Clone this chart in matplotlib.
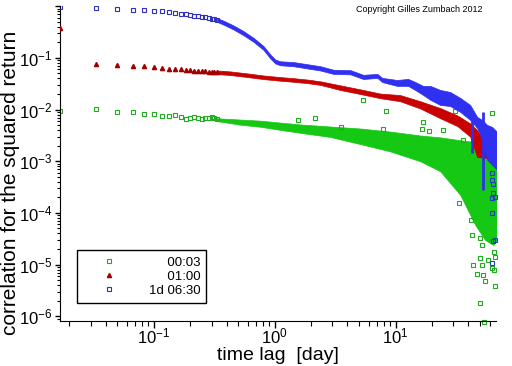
import matplotlib
matplotlib.use("Agg")
import matplotlib.pyplot as plt
from matplotlib.ticker import LogLocator, NullFormatter, FixedLocator, FixedFormatter

plt.rcParams["font.family"] = ["Liberation Sans", "DejaVu Sans"]
plt.rcParams["mathtext.fontset"] = "custom"
plt.rcParams["mathtext.rm"] = "Liberation Sans"
plt.rcParams["mathtext.it"] = "Liberation Sans:italic"
plt.rcParams["mathtext.bf"] = "Liberation Sans:bold"

# first lags (1/60 day steps), where single points are still visible
lags_early = [0.0167, 0.0333, 0.05, 0.0667, 0.0833, 0.1, 0.1167, 0.1333, 0.15, 0.1667,
              0.1833, 0.2, 0.2167, 0.2333, 0.25, 0.2667, 0.2833, 0.3, 0.3167, 0.3333]
green_early = [0.0094, 0.0101, 0.0089, 0.0089, 0.0081, 0.0081, 0.0076, 0.0074, 0.0078, 0.0071,
               0.0065, 0.0069, 0.0071, 0.0068, 0.0065, 0.0068, 0.0069, 0.0071, 0.0068, 0.0066]
red_early = [0.38, 0.0764, 0.0721, 0.069, 0.069, 0.066, 0.063, 0.060, 0.060, 0.060,
             0.0593, 0.0577, 0.0567, 0.056, 0.0552, 0.0552, 0.0542, 0.0535, 0.0535, 0.0527]
blue_early = [0.97, 0.91, 0.875, 0.86, 0.84, 0.82, 0.80, 0.765, 0.74, 0.72,
              0.71, 0.68, 0.655, 0.64, 0.62, 0.607, 0.589, 0.578, 0.56, 0.543]

# dense part: upper / lower envelope of the point cloud
green_lag = [0.33, 0.52, 0.76, 1.11, 1.63, 2.88, 5.11, 9.04, 16.0, 23.4, 34.3, 45.6, 55.1, 64.3, 68.5]
green_hi = [0.0068, 0.00640, 0.00610, 0.00560, 0.00515, 0.00470, 0.00430, 0.00375, 0.00315,
            0.00290, 0.00255, 0.00236, 0.00207, 0.00132, 0.0011]
green_lo = [0.0060, 0.00510, 0.00465, 0.00405, 0.00355, 0.00295, 0.00215, 0.00155, 0.00100,
            0.00064, 0.000222, 5.85e-5, 2.99e-5, 2.39e-5, 3e-5]

red_lag = [0.333, 0.43, 0.594, 0.807, 1.11, 1.43, 1.90, 2.39, 3.49, 5.11, 7.47, 10.9, 16.0,
           23.4, 32.4, 41.4, 47.3, 55.1, 64.3, 68.0]
red_hi = [0.0571, 0.0547, 0.0501, 0.0457, 0.0425, 0.0405, 0.0379, 0.0352, 0.0294, 0.0246,
          0.0204, 0.0191, 0.0145, 0.0107, 0.0077, 0.0054, 0.0040, 0.0023, 0.0021, 0.0020]
red_lo = [0.0486, 0.0466, 0.0426, 0.0389, 0.0362, 0.0345, 0.0323, 0.0300, 0.0239, 0.0200,
          0.0166, 0.0145, 0.0105, 0.0068, 0.0048, 0.0030, 0.0012, 0.00117, 0.00107, 0.00110]

blue_lag = [0.333, 0.377, 0.456, 0.551, 0.667, 0.807, 0.921, 1.01, 1.11, 1.43, 1.90, 2.39, 3.06,
            4.23, 5.41, 7.06, 7.76, 10.3, 12.7, 14.5, 16.9, 19.4, 23.4, 28.3, 34.3, 41.4, 47.3,
            52.0, 57.2, 62.9, 69.2]
blue_hi = [0.59, 0.525, 0.425, 0.33, 0.245, 0.17, 0.116, 0.093, 0.086, 0.083, 0.075, 0.069, 0.059,
           0.058, 0.047, 0.049, 0.041, 0.0374, 0.0392, 0.0343, 0.0287, 0.0287, 0.0240, 0.0219,
           0.0168, 0.0123, 0.0072, 0.0063, 0.00504, 0.00461, 0.00369]
blue_lo = [0.50, 0.44, 0.355, 0.275, 0.205, 0.143, 0.097, 0.078, 0.072, 0.069, 0.062, 0.057, 0.049,
           0.048, 0.039, 0.041, 0.034, 0.0287, 0.0287, 0.0240, 0.0192, 0.0154, 0.0123, 0.0117,
           0.0090, 0.0063, 0.0044, 0.00258, 0.00106, 0.00085, 0.00068]

# isolated points away from the clouds
green_out_lag = [5.41, 8.37, 2.17, 1.57, 16.9, 16.4, 19.0, 24.8, 36.3, 63.1, 31.1, 7.91, 3.56,
                 33.2, 42.3, 43.1, 50.1, 51.9, 50.1, 51.9, 43.9, 47.3, 53.1, 55.1, 62.7, 65.3,
                 66.8, 50.1, 54.1, 58.3, 65.3, 66.8]
green_out = [0.0153, 0.0094, 0.0068, 0.0063, 0.0057, 0.0042, 0.0039, 0.0040, 0.0026, 0.0087,
             0.0094, 0.0042, 0.0047, 1.58e-4, 7.3e-5, 3.74e-5, 3.23e-5, 2.4e-5, 1.32e-5, 9.8e-6,
             9.8e-6, 6.6e-6, 6.3e-6, 4.9e-6, 8.5e-6, 7.9e-6, 3.85e-6, 1.78e-6, 7.9e-7, 1.23e-5,
             1.78e-5, 1.42e-5]
blue_out_lag = [62.7, 63.5, 64.3, 63.1, 62.7, 62.7, 63.5, 62.7, 66.8, 66.8]
blue_out = [5.8e-4, 3.7e-4, 2.4e-4, 1.95e-4, 4.3e-4, 1.0e-4, 2.8e-5, 1.06e-5, 2.0e-4, 3e-5]
blue_spike_lag = [43.0, 52.5]
blue_spike_top = [0.009, 0.009]
blue_spike_bottom = [0.00144, 0.00028]

labels = ["\u2007\u2007 00:03", "\u2007\u2007 01:00", "1d 06:30"]
green = "#14c814"
red = "#c80000"
blue = "#3030f0"

fig = plt.figure(figsize=(5.12, 3.66), dpi=100)
ax = fig.add_axes([0.117, 0.123, 0.852, 0.860])

# 00:03
ax.fill_between(green_lag, green_lo, green_hi, color=green, lw=0.5, zorder=2)
ax.plot(green_out_lag, green_out, ls="none", marker="s", ms=3, mfc="none", mec="#22aa22",
        mew=0.8, zorder=2, clip_on=False)
h1, = ax.plot(lags_early, green_early, ls="none", marker="s", ms=3, mfc="none", mec="#22aa22",
              mew=0.8, zorder=2)

# 01:00
ax.fill_between(red_lag, red_lo, red_hi, color=red, lw=0.5, zorder=3)
h2, = ax.plot(lags_early, red_early, ls="none", marker="^", ms=3, color="#a00000", zorder=3)

# 1d 06:30
ax.fill_between(blue_lag, blue_lo, blue_hi, color=blue, lw=0.5, zorder=4)
ax.vlines(blue_spike_lag, blue_spike_bottom, blue_spike_top, color=blue, lw=2, zorder=4)
ax.plot(blue_out_lag, blue_out, ls="none", marker="s", ms=3, mfc="none", mec="#2040c0",
        mew=0.8, zorder=4, clip_on=False)
h3, = ax.plot(lags_early, blue_early, ls="none", marker="s", ms=3, mfc="none", mec="#3030c0",
              mew=0.8, zorder=4)

ax.set_xscale("log")
ax.set_yscale("log")
ax.set_xlim(0.0167, 67.9)
ax.set_ylim(8.1e-7, 1.0)

ax.spines["top"].set_visible(False)
ax.spines["right"].set_visible(False)
ax.tick_params(axis="x", which="major", direction="out", length=5, width=1, labelsize=12, pad=-1)
ax.tick_params(axis="x", which="minor", direction="out", length=3.6, width=0.8)
ax.tick_params(axis="y", which="major", direction="out", length=3.5, width=1, labelsize=12, pad=2)
ax.tick_params(axis="y", which="minor", direction="out", length=2.5, width=0.8)

ax.xaxis.set_major_locator(FixedLocator([0.1, 1, 10]))
ax.xaxis.set_major_formatter(FixedFormatter(["$10^{-1}$", "$10^{0}$", "$10^{1}$"]))
ax.xaxis.set_minor_locator(LogLocator(base=10, subs=range(2, 10), numticks=20))
ax.xaxis.set_minor_formatter(NullFormatter())
ax.yaxis.set_major_locator(FixedLocator([1e-6, 1e-5, 1e-4, 1e-3, 1e-2, 1e-1, 1]))
ax.yaxis.set_major_formatter(FixedFormatter(["$10^{-6}$", "$10^{-5}$", "$10^{-4}$", "$10^{-3}$",
                                             "$10^{-2}$", "$10^{-1}$", ""]))
ax.yaxis.set_minor_locator(LogLocator(base=10, subs=range(2, 10), numticks=20))
ax.yaxis.set_minor_formatter(NullFormatter())

ax.set_xlabel("time lag  [day]", fontsize=14)
ax.xaxis.set_label_coords(0.5, -0.084)
ax.xaxis.label.set_va("top")
ax.set_ylabel("correlation for the squared return", fontsize=15)
ax.yaxis.set_label_coords(-0.113, 0.44)
ax.yaxis.label.set_va("center")

leg = ax.legend([h1, h2, h3], labels, loc="lower left", bbox_to_anchor=(0.039, 0.057),
                bbox_transform=ax.transAxes, borderaxespad=0, fontsize=9.5, frameon=True,
                fancybox=False, framealpha=1, edgecolor="black", handlelength=3.9,
                handletextpad=1.1, labelspacing=0.15, borderpad=0.45, markerscale=1.0)
leg.get_frame().set_linewidth(1.0)

fig.text(0.818, 0.986, "Copyright Gilles Zumbach 2012", fontsize=6.5, ha="center", va="top")

fig.savefig("out.png", dpi=100)
